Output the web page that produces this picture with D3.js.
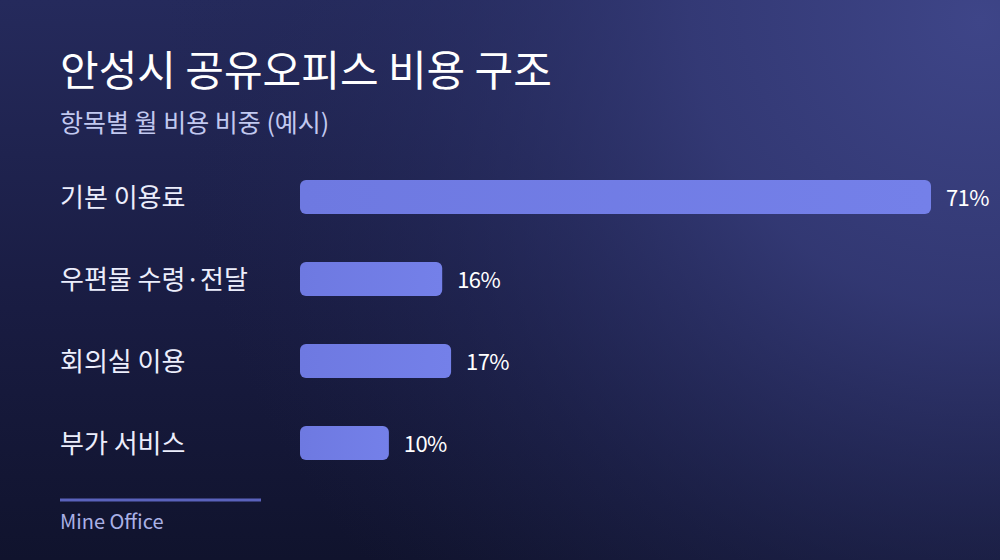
<!DOCTYPE html>
<html>
<head>
  <meta charset='utf-8'>
  <title>안성시 공유오피스 비용 구조</title>
  <style>
  html, body {
    margin: 0;
    padding: 0;
    background: #14173a;
  }
  svg {
    display: block;
  }
  text {
    font-family: 'Noto Sans CJK KR', 'Noto Sans', sans-serif;
  }
  </style>
  <script src='https://d3js.org/d3.v7.min.js'></script>
</head>
<body>
<div id="container"></div>
<script>
// ******* Data *******
const categories = ["기본 이용료", "우편물 수령·전달", "회의실 이용", "부가 서비스"];
const shares = [71, 16, 17, 10];
const valueLabels = ["71%", "16%", "17%", "10%"];

// ******* Constants *******
const width = 1000,
      height = 560;

const svg = d3.select("#container").append("svg")
    .attr("width", width)
    .attr("height", height);

// ******* Background *******
const defs = svg.append("defs");

const bgLinear = defs.append("linearGradient")
    .attr("id", "bg-linear")
    .attr("x1", 0).attr("y1", 0)
    .attr("x2", 0).attr("y2", 1);
bgLinear.append("stop").attr("offset", "0%").attr("stop-color", "#252a5c");
bgLinear.append("stop").attr("offset", "55%").attr("stop-color", "#191c42");
bgLinear.append("stop").attr("offset", "100%").attr("stop-color", "#10132d");

const bgGlow = defs.append("radialGradient")
    .attr("id", "bg-glow")
    .attr("gradientUnits", "userSpaceOnUse")
    .attr("cx", 980).attr("cy", 20).attr("r", 820);
bgGlow.append("stop").attr("offset", "0%").attr("stop-color", "#3e4588").attr("stop-opacity", 1);
bgGlow.append("stop").attr("offset", "35%").attr("stop-color", "#363c7a").attr("stop-opacity", 0.85);
bgGlow.append("stop").attr("offset", "70%").attr("stop-color", "#2a3066").attr("stop-opacity", 0.35);
bgGlow.append("stop").attr("offset", "100%").attr("stop-color", "#20254f").attr("stop-opacity", 0);

const barFill = defs.append("linearGradient")
    .attr("id", "bar-fill")
    .attr("x1", 0).attr("y1", 0)
    .attr("x2", 1).attr("y2", 0);
barFill.append("stop").attr("offset", "0%").attr("stop-color", "#6e79e1");
barFill.append("stop").attr("offset", "100%").attr("stop-color", "#7480e9");

svg.append("rect")
    .attr("width", width).attr("height", height)
    .attr("fill", "url(#bg-linear)");
svg.append("rect")
    .attr("width", width).attr("height", height)
    .attr("fill", "url(#bg-glow)");

// ******* Titles *******
svg.append("text")
    .attr("x", 60).attr("y", 86)
    .attr("fill", "#ffffff")
    .attr("font-size", 42)
    .attr("font-weight", 400)
    .text("안성시 공유오피스 비용 구조");

svg.append("text")
    .attr("x", 60).attr("y", 132)
    .attr("fill", "#c2c9f0")
    .attr("font-size", 25)
    .text("항목별 월 비용 비중 (예시)");

// ******* Scales *******
const x = d3.scaleLinear()
    .domain([0, d3.max(shares)])
    .range([300, 931]);

const y = d3.scaleBand()
    .domain(categories)
    .range([156, 484])
    .paddingInner(0.585)
    .paddingOuter(0.2925);

const rows = categories.map((c, i) => ({ name: c, value: shares[i], label: valueLabels[i] }));

// ******* Bars *******
const row = svg.selectAll("g.row")
    .data(rows)
    .enter()
    .append("g")
    .attr("class", "row");

row.append("text")
    .attr("x", 60)
    .attr("y", d => y(d.name) + y.bandwidth() / 2 - 2)
    .attr("dominant-baseline", "central")
    .attr("fill", "#eceefc")
    .attr("font-size", 26)
    .text(d => d.name);

row.append("rect")
    .attr("x", x(0))
    .attr("y", d => y(d.name))
    .attr("width", d => x(d.value) - x(0))
    .attr("height", y.bandwidth())
    .attr("rx", 6)
    .attr("fill", "url(#bar-fill)");

row.append("text")
    .attr("x", d => x(d.value) + 15)
    .attr("y", d => y(d.name) + y.bandwidth() / 2 - 1)
    .attr("dominant-baseline", "central")
    .attr("fill", "#ffffff")
    .attr("font-size", 22)
    .attr("letter-spacing", -0.6)
    .text(d => d.label);

// ******* Footer *******
svg.append("line")
    .attr("x1", 60).attr("x2", 261)
    .attr("y1", 500).attr("y2", 500)
    .attr("stroke", "#5a62bc")
    .attr("stroke-width", 3);

svg.append("text")
    .attr("x", 60).attr("y", 529)
    .attr("fill", "#aab1e6")
    .attr("font-size", 20)
    .text("Mine Office");
</script>
</body>
</html>
